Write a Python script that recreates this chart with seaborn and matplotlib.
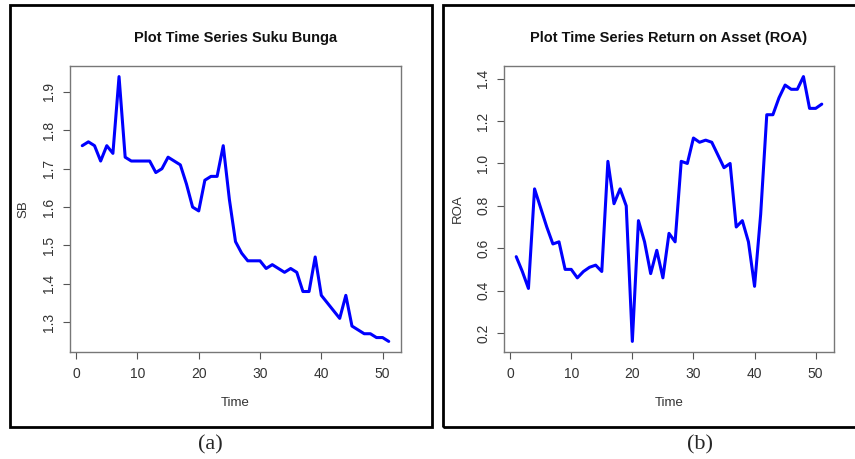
import matplotlib
matplotlib.use('Agg')
import matplotlib.pyplot as plt
from matplotlib.patches import Rectangle
import seaborn as sns
import pandas as pd
import numpy as np

# data
time = list(range(1, 52))
suku_bunga = [1.76, 1.77, 1.76, 1.72, 1.76, 1.74, 1.94, 1.73, 1.72, 1.72,
              1.72, 1.72, 1.69, 1.70, 1.73, 1.72, 1.71, 1.66, 1.60, 1.59,
              1.67, 1.68, 1.68, 1.76, 1.62, 1.51, 1.48, 1.46, 1.46, 1.46,
              1.44, 1.45, 1.44, 1.43, 1.44, 1.43, 1.38, 1.38, 1.47, 1.37,
              1.35, 1.33, 1.31, 1.37, 1.29, 1.28, 1.27, 1.27, 1.26, 1.26,
              1.25]
roa = [0.56, 0.49, 0.41, 0.88, 0.79, 0.70, 0.62, 0.63, 0.50, 0.50,
       0.46, 0.49, 0.51, 0.52, 0.49, 1.01, 0.81, 0.88, 0.80, 0.16,
       0.73, 0.63, 0.48, 0.59, 0.46, 0.67, 0.63, 1.01, 1.00, 1.12,
       1.10, 1.11, 1.10, 1.04, 0.98, 1.00, 0.70, 0.73, 0.63, 0.42,
       0.76, 1.23, 1.23, 1.31, 1.37, 1.35, 1.35, 1.41, 1.26, 1.26,
       1.28]
x_ticks = [0, 10, 20, 30, 40, 50]
sb_ticks = [1.3, 1.4, 1.5, 1.6, 1.7, 1.8, 1.9]
roa_ticks = [0.2, 0.4, 0.6, 0.8, 1.0, 1.2, 1.4]

sns.set_style('white')
plt.rcParams['font.family'] = ['Liberation Sans', 'DejaVu Sans']

W, H = 855, 459
fig = plt.figure(figsize=(W / 100, H / 100), dpi=100)


def px_rect(left, top, right, bottom):
    """pixel box -> figure fraction [l, b, w, h]"""
    return [left / W, 1 - bottom / H, (right - left) / W, (bottom - top) / H]


def r_style_panel(rect, y, title, ylab, yticks):
    ax = fig.add_axes(rect)
    df = pd.DataFrame({'Time': time, ylab: y})
    sns.lineplot(data=df, x='Time', y=ylab, ax=ax, color='#0000ff', linewidth=2.2)
    # R style 4% padding
    xr = max(time) - min(time)
    yr = max(y) - min(y)
    ax.set_xlim(min(time) - 0.04 * xr, max(time) + 0.04 * xr)
    ax.set_ylim(min(y) - 0.04 * yr, max(y) + 0.04 * yr)
    ax.set_xticks(x_ticks)
    ax.set_yticks(yticks)
    ax.set_yticklabels([f'{v:.1f}' for v in yticks], rotation=90, va='center')
    ax.tick_params(axis='both', direction='out', length=5, width=0.8,
                   color='#555555', labelcolor='#333333', labelsize=10,
                   left=True, bottom=True)
    ax.tick_params(axis='x', pad=6)
    ax.tick_params(axis='y', pad=5)
    for s in ax.spines.values():
        s.set_color('#777777')
        s.set_linewidth(1.0)
    ax.set_title(title, fontsize=10.5, fontweight='bold', color='#111111', pad=17)
    ax.set_xlabel('Time', fontsize=9.5, color='#333333', labelpad=11)
    ax.set_ylabel(ylab, fontsize=9.5, color='#333333', labelpad=9)
    return ax


ax1 = r_style_panel(px_rect(70, 66, 401, 352), suku_bunga,
                    'Plot Time Series Suku Bunga', 'SB', sb_ticks)
ax2 = r_style_panel(px_rect(504, 66, 834, 352), roa,
                    'Plot Time Series Return on Asset (ROA)', 'ROA', roa_ticks)

# black frames around each panel
for (l, t, r, b) in [(10, 5, 432, 427), (443, 5, 858, 427)]:
    fig.patches.append(Rectangle((l / W, 1 - b / H), (r - l) / W, (b - t) / H,
                                 transform=fig.transFigure, fill=False,
                                 edgecolor='black', linewidth=2.0))

fig.text(210 / W, 1 - 445 / H, '(a)', ha='center', va='center',
         family=['Liberation Serif', 'DejaVu Serif'], fontsize=16)
fig.text(700 / W, 1 - 445 / H, '(b)', ha='center', va='center',
         family=['Liberation Serif', 'DejaVu Serif'], fontsize=16)

fig.savefig('out.png', dpi=100)
